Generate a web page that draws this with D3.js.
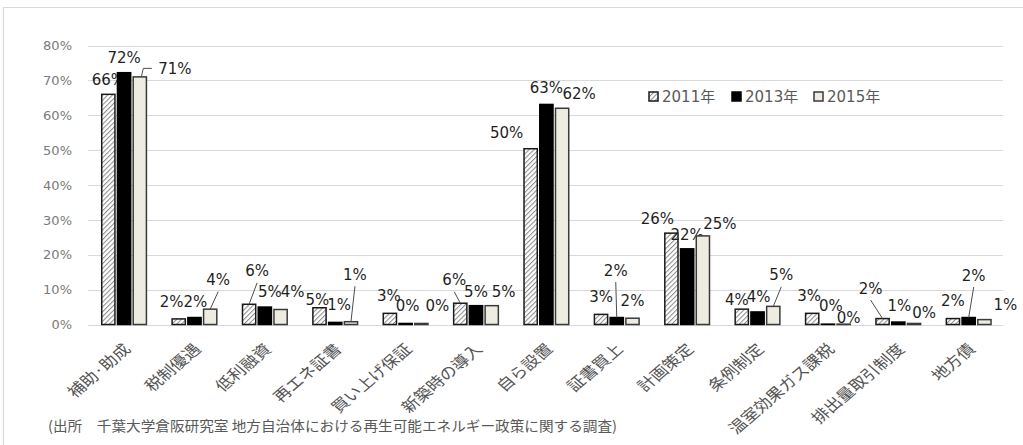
<!DOCTYPE html>
<html>
<head>
<meta charset="utf-8">
<script src="https://cdn.jsdelivr.net/npm/d3@7"></script>
<style>
  html, body { margin: 0; padding: 0; background: #ffffff; }
  svg { display: block; }
  text { font-family: "DejaVu Sans", "Noto Sans CJK JP", sans-serif; }
  .jp { font-family: "Noto Sans CJK JP", "DejaVu Sans", sans-serif; }
</style>
</head>
<body>
<svg id="chart" width="1023" height="445"></svg>
<script>
// Policy categories (x axis)
const categories = ["補助·助成", "税制優遇", "低利融資", "再エネ証書", "買い上げ保証", "新築時の導入",
  "自ら設置", "証書買上", "計画策定", "条例制定", "温室効果ガス課税", "排出量取引制度", "地方債"];

// Survey years
const seriesNames = ["2011年", "2013年", "2015年"];

// Share of municipalities (%) per survey year
const values2011 = [66.0, 1.6, 5.8, 4.8, 3.2, 6.1, 50.4, 2.9, 26.2, 4.4, 3.2, 1.7, 1.7];
const values2013 = [72.2, 2.0, 5.0, 0.6, 0.3, 5.4, 63.1, 2.0, 21.7, 3.6, 0.1, 0.7, 2.0];
const values2015 = [71.0, 4.4, 4.3, 0.8, 0.3, 5.4, 62.0, 1.8, 25.4, 5.2, 0.1, 0.3, 1.4];

// Y axis ticks (%)
const yTicks = [0, 10, 20, 30, 40, 50, 60, 70, 80];

const sourceNote = "(出所\u3000千葉大学倉阪研究室 地方自治体における再生可能エネルギー政策に関する調査)";

// Label placement tweaks [dx, dy] (px) relative to the default spot above each bar
const labelNudge = [
  [[0,0],[-7,-3],[8,-19],[-2,6],[-1,-3],[-6,-9],[-24,-2],[0,-3],[-14,0],[-5,5],[-3,-3],[-12,-16],[0,-4]],
  [[0,-1],[1,-2],[5,-1],[4,-3],[2,-3],[0,0],[0,-2],[-1,-33],[0,0],[1,-1],[3,-4],[1,-2],[5,-28]],
  [[35,6],[8,-15],[12,-4],[4,-33],[16,-3],[12,0],[17,0],[0,-3],[17,2],[8,-17],[5,8],[10,4],[21,-1]]
];
// Which labels get a leader line
const leaders = [[2, 5, 11], [7, 12], [0, 1, 3, 9]];

const series = [values2011, values2013, values2015];

const svg = d3.select("#chart");
const W = 1023, H = 445;
const plot = { left: 88, right: 1003, top: 45.5, bottom: 324.5 };

// Hatch pattern for the 2011 series
const defs = svg.append("defs");
const pat = defs.append("pattern")
  .attr("id", "hatch")
  .attr("patternUnits", "userSpaceOnUse")
  .attr("width", 3.4).attr("height", 3.4)
  .attr("patternTransform", "rotate(45)");
pat.append("rect").attr("width", 3.4).attr("height", 3.4).attr("fill", "#ffffff");
pat.append("line").attr("x1", 0.5).attr("y1", 0).attr("x2", 0.5).attr("y2", 3.4)
  .attr("stroke", "#8c8c8c").attr("stroke-width", 1.1);

const fills = ["url(#hatch)", "#000000", "#eeece1"];
const strokes = ["#1a1a1a", "#000000", "#3a3a3a"];

// Outer frame (top and left edges)
svg.append("line").attr("x1", 3).attr("x2", W).attr("y1", 7.5).attr("y2", 7.5)
  .attr("stroke", "#d9d9d9").attr("stroke-width", 1.2);
svg.append("line").attr("x1", 3.5).attr("x2", 3.5).attr("y1", 7).attr("y2", H)
  .attr("stroke", "#d9d9d9").attr("stroke-width", 1.2);

// Scales
const x0 = d3.scaleBand().domain(categories).range([plot.left, plot.right]).paddingInner(0).paddingOuter(0);
const x1 = d3.scaleBand().domain(d3.range(3))
  .range([x0.bandwidth() * 0.195, x0.bandwidth() * 0.83]).paddingInner(0.16);
const y = d3.scaleLinear().domain([0, 80]).range([plot.bottom, plot.top]);

// Gridlines
svg.append("g").selectAll("line").data(yTicks).join("line")
  .attr("x1", plot.left).attr("x2", plot.right)
  .attr("y1", d => Math.round(y(d)) + 0.5).attr("y2", d => Math.round(y(d)) + 0.5)
  .attr("stroke", "#d9d9d9").attr("stroke-width", 1.2);

// Y axis labels
const yAxis = d3.axisLeft(y).tickValues(yTicks).tickFormat(d => d + "%").tickSize(0).tickPadding(0);
const yg = svg.append("g").attr("transform", `translate(72,0)`).call(yAxis);
yg.select(".domain").remove();
yg.selectAll("text").attr("fill", "#7a7a7a").style("font-size", "13px")
  .style("font-family", "'DejaVu Sans', sans-serif");

// X axis labels (rotated, slightly widened)
const xAxis = d3.axisBottom(x0).tickSize(0).tickPadding(0);
const xg = svg.append("g").attr("transform", `translate(0,${plot.bottom})`).call(xAxis);
xg.select(".domain").remove();
xg.selectAll("text")
  .attr("class", "jp")
  .attr("fill", "#555555")
  .style("font-size", "15px")
  .style("font-family", "'Noto Sans CJK JP', sans-serif")
  .attr("text-anchor", "end")
  .attr("x", 0).attr("y", 0).attr("dy", "0.35em")
  .attr("transform", "translate(4,22) scale(1.17,1) rotate(-45)");

const fmt = d3.format(".0%");

// Bars and labels, one series at a time
series.forEach((vals, s) => {
  const g = svg.append("g");
  g.selectAll("rect").data(vals).join("rect")
    .attr("x", (d, i) => x0(categories[i]) + x1(s))
    .attr("width", x1.bandwidth())
    .attr("y", d => y(d))
    .attr("height", d => y(0) - y(d))
    .attr("fill", fills[s])
    .attr("stroke", strokes[s])
    .attr("stroke-width", 1.5);

  const lab = svg.append("g");
  vals.forEach((d, i) => {
    const bx = x0(categories[i]) + x1(s) + x1.bandwidth() / 2;
    const top = y(d);
    const [dx, dy] = labelNudge[s][i];
    const lx = bx + dx;
    const ly = top - 9 + dy;
    if (leaders[s].includes(i)) {
      const halfW = 17;
      let pts;
      if (Math.abs(dx) > halfW + 8) {
        const midY = ly - 5.5;
        pts = [[bx + 1.5, top], [bx + 3.5, midY], [lx - halfW - 6, midY]];
      } else {
        pts = [[bx, top], [lx, ly + 6.5]];
      }
      lab.append("path")
        .attr("d", d3.line()(pts))
        .attr("fill", "none")
        .attr("stroke", "#4d4d4d")
        .attr("stroke-width", 1);
    }
    lab.append("text")
      .attr("x", lx).attr("y", ly)
      .attr("text-anchor", "middle")
      .attr("fill", "#1f1f1f")
      .style("font-size", "15px")
      .text(fmt(d / 100));
  });
});

// Legend
const legendX = [649, 732, 814];
const lg = svg.append("g");
seriesNames.forEach((name, s) => {
  lg.append("rect")
    .attr("x", legendX[s]).attr("y", 92)
    .attr("width", 9).attr("height", 9)
    .attr("fill", fills[s]).attr("stroke", strokes[s]).attr("stroke-width", 1.5);
  lg.append("text")
    .attr("x", legendX[s] + 13).attr("y", 101.5)
    .attr("fill", "#595959")
    .style("font-size", "15px")
    .text(name);
});

// Source note
svg.append("text")
  .attr("class", "jp")
  .attr("x", 48).attr("y", 431)
  .attr("fill", "#595959")
  .style("font-size", "14px")
  .attr("textLength", 569)
  .attr("lengthAdjust", "spacingAndGlyphs")
  .text(sourceNote);
</script>
</body>
</html>
